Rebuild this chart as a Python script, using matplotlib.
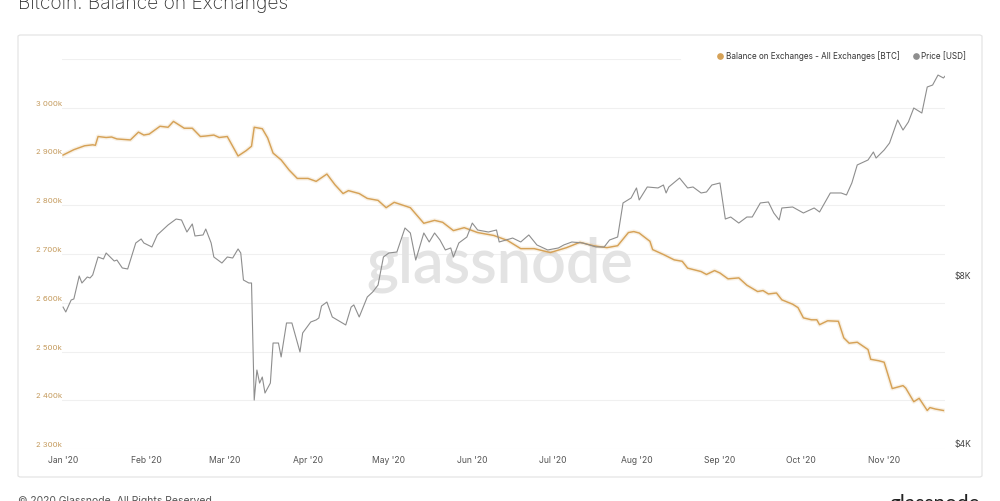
import matplotlib
matplotlib.use("Agg")
import matplotlib.pyplot as plt
import matplotlib.transforms as mtransforms
from matplotlib.patches import FancyBboxPatch
from matplotlib.lines import Line2D
from matplotlib.ticker import FixedLocator, NullLocator
import pandas as pd

# ---------------- data ----------------
start_date = "2020-01-01"

# Balance on exchanges (thousand BTC), days after 2020-01-01
balance_days = [0, 4, 8, 11, 12, 13, 16, 18, 20, 25,
                28, 30, 32, 36, 39, 41, 45, 48, 51, 53,
                56, 58, 61, 65, 68, 70, 71, 74, 76, 78,
                81, 84, 87, 91, 94, 98, 101, 104, 106, 110,
                113, 117, 120, 123, 129, 134, 138, 141, 145, 149,
                154, 160, 165, 170, 175, 181, 187, 192, 197, 202,
                206, 210, 212, 214, 218, 219, 223, 227, 230, 232,
                237, 239, 242, 244, 247, 251, 254, 258, 260, 262,
                265, 267, 271, 273, 275, 278, 280, 281, 284, 288,
                290, 292, 295, 299, 300, 303, 305, 308, 312, 313,
                316, 318, 321, 322, 324, 327]
balance_k = [2903, 2914, 2922, 2924, 2923, 2941, 2939, 2940, 2936, 2934,
             2950, 2944, 2946, 2962, 2960, 2972, 2958, 2958, 2941, 2942,
             2944, 2939, 2941, 2901, 2912, 2921, 2960, 2957, 2938, 2907,
             2893, 2872, 2855, 2855, 2849, 2864, 2842, 2824, 2830, 2824,
             2814, 2810, 2795, 2806, 2795, 2763, 2769, 2765, 2748, 2754,
             2744, 2738, 2728, 2711, 2711, 2703, 2713, 2724, 2717, 2713,
             2717, 2744, 2746, 2743, 2726, 2709, 2699, 2688, 2685, 2671,
             2664, 2658, 2666, 2661, 2649, 2651, 2636, 2623, 2625, 2618,
             2620, 2606, 2597, 2590, 2569, 2565, 2565, 2555, 2563, 2562,
             2528, 2517, 2519, 2504, 2484, 2481, 2478, 2424, 2430, 2425,
             2397, 2404, 2379, 2385, 2382, 2379]

# BTC price (USD), days after 2020-01-01
price_days = [0, 1, 3, 4, 6, 7, 9, 10, 11, 13, 15, 16, 19, 20, 22, 24, 27, 29, 30, 33,
              35, 39, 42, 44, 46, 48, 49, 52, 53, 55, 56, 59, 61, 63, 65, 66, 67, 69, 70, 71,
              72, 73, 74, 75, 77, 78, 80, 81, 83, 85, 88, 89, 92, 94, 95, 96, 98, 100, 105, 107,
              108, 110, 113, 115, 117, 119, 121, 124, 127, 129, 131, 134, 136, 138, 140, 142, 144, 145, 147, 150,
              152, 154, 158, 161, 162, 167, 170, 173, 176, 180, 184, 186, 189, 193, 198, 201, 203, 206, 208, 211,
              213, 214, 217, 221, 223, 224, 225, 229, 232, 234, 237, 239, 241, 244, 246, 248, 251, 254, 256, 259,
              262, 264, 266, 267, 271, 275, 279, 281, 285, 289, 291, 293, 295, 299, 301, 302, 305, 307, 310, 312,
              314, 316, 319, 321, 323, 325, 327, 328]
price_usd = [7037, 6896, 7245, 7276, 8000, 7772, 7967, 7934, 8033, 8652, 8581, 8796, 8510, 8544, 8269, 8235, 9167, 9320, 9167, 9017,
             9476, 9874, 10120, 10079, 9592, 9916, 9436, 9476, 9711, 9167, 8652, 8440, 8652, 8616, 8944, 8796, 7868, 7772, 7772, 4794,
             5428, 5143, 5273, 4936, 5143, 6067, 6067, 5728, 6590, 6590, 5847, 6324, 6617, 6673, 6727, 7068, 7185, 6755, 6536, 7037,
             7100, 6755, 7336, 7488, 7707, 8652, 8796, 8833, 9752, 9553, 8544, 9553, 9205, 9553, 9281, 8907, 8981, 8652, 9167, 9396,
             9953, 9672, 9592, 9672, 9205, 9356, 9205, 9476, 9093, 8907, 8981, 9093, 9205, 9167, 9017, 9017, 9281, 9396, 10813, 11037,
             11504, 10946, 11550, 11504, 11645, 11268, 11550, 11985, 11504, 11550, 11268, 11314, 11645, 11743, 10120, 10204, 9953, 10204, 10204, 10813,
             10857, 10375, 10079, 10591, 10635, 10375, 10591, 10418, 11268, 11268, 11176, 11743, 12649, 12911, 13343, 13015, 13454, 13848, 15227, 14608,
             15103, 16000, 15672, 17449, 17590, 18331, 18110, 18331]

balance_ticks = [2300, 2400, 2500, 2600, 2700, 2800, 2900, 3000]
balance_tick_labels = ["2 300k", "2 400k", "2 500k", "2 600k", "2 700k", "2 800k", "2 900k", "3 000k"]
price_ticks = [4000, 8000]
price_tick_labels = ["$4K", "$8K"]
month_ticks = ["2020-01-01", "2020-02-01", "2020-03-01", "2020-04-01", "2020-05-01", "2020-06-01",
               "2020-07-01", "2020-08-01", "2020-09-01", "2020-10-01", "2020-11-01"]
month_labels = ["Jan '20", "Feb '20", "Mar '20", "Apr '20", "May '20", "Jun '20",
                "Jul '20", "Aug '20", "Sep '20", "Oct '20", "Nov '20"]

title = "Bitcoin: Balance on Exchanges"
legend_balance = "Balance on Exchanges - All Exchanges [BTC]"
legend_price = "Price [USD]"

# ---------------- style ----------------
FONT = ["Inter", "DejaVu Sans"]
plt.rcParams["font.family"] = FONT
ORANGE = "#d6a257"
GREY = "#8e8e8e"
W, H = 1000, 501

t0 = pd.Timestamp(start_date)
bal_dates = t0 + pd.to_timedelta(balance_days, unit="D")
price_dates = t0 + pd.to_timedelta(price_days, unit="D")

fig = plt.figure(figsize=(W / 100, H / 100), dpi=100, facecolor="white")

# panel
panel = FancyBboxPatch((18 / W, 1 - 477 / H), (982 - 18) / W, (477 - 35) / H,
                       boxstyle="round,pad=0,rounding_size=0.003",
                       transform=fig.transFigure, facecolor="white",
                       edgecolor="#e4e4e4", linewidth=0.9, zorder=-5)
fig.patches.append(panel)

ax_left, ax_right = 62, 945
ax_top, ax_bottom = 59, 449
ax = fig.add_axes([ax_left / W, 1 - ax_bottom / H, (ax_right - ax_left) / W, (ax_bottom - ax_top) / H])
ax.patch.set_visible(False)

# watermark (behind the lines)
ax.text(0.5, 1 - 265 / H, "glassnode", ha="center", va="center", fontsize=44,
        color="#e3e3e3", family=["Lato", "DejaVu Sans"], fontweight="semibold",
        transform=fig.transFigure, zorder=1)

ax.plot(bal_dates, balance_k, color=ORANGE, lw=3.0, alpha=0.15, solid_joinstyle="round", zorder=3)
ax.plot(bal_dates, balance_k, color=ORANGE, lw=1.05, solid_joinstyle="round", zorder=4)

ax.set_ylim(2300, 3100)
ax.set_xlim(t0 - pd.Timedelta(days=0.4), t0 + pd.Timedelta(days=327.6))
ax.set_yticks(balance_ticks)
ax.set_yticklabels(balance_tick_labels)
ax.yaxis.set_minor_locator(NullLocator())
ax.tick_params(axis="y", length=0, pad=0, labelsize=5.6, labelcolor="#c49a5c")
offset = mtransforms.ScaledTranslation(0, 4.5 / 100, fig.dpi_scale_trans)
for lab in ax.get_yticklabels():
    lab.set_transform(lab.get_transform() + offset)
ax.grid(axis="y", color="#f0f0f0", lw=0.8, zorder=0)
ax.set_axisbelow(True)
# top gridline (3 100k) without label
ax.axhline(3100, xmax=0.7, color="#f0f0f0", lw=0.8, zorder=0)

ax.set_xticks(pd.to_datetime(month_ticks))
ax.set_xticklabels(month_labels)
ax.tick_params(axis="x", length=0, pad=5, labelsize=6.2, labelcolor="#555555")
for s in ax.spines.values():
    s.set_visible(False)

ax2 = ax.twinx()
ax2.patch.set_visible(False)
ax2.plot(price_dates, price_usd, color=GREY, lw=0.8, zorder=5)
ax2.set_yscale("log")
ax2.set_ylim(3918, 19585)
ax2.yaxis.set_major_locator(FixedLocator(price_ticks))
ax2.set_yticklabels(price_tick_labels)
ax2.yaxis.set_minor_locator(NullLocator())
ax2.tick_params(axis="y", length=0, pad=7, labelsize=6.2, labelcolor="#444444")
for s in ax2.spines.values():
    s.set_visible(False)
ax2.set_xlim(ax.get_xlim())

# legend
handles = [Line2D([], [], marker="o", ls="none", color=ORANGE, markersize=3.8, label=legend_balance),
           Line2D([], [], marker="o", ls="none", color=GREY, markersize=3.8, label=legend_price)]
fig.legend(handles=handles, loc="center right", bbox_to_anchor=(966 / W, 1 - 56 / H),
           ncol=2, frameon=False, fontsize=5.85, handletextpad=0.15, columnspacing=1.5,
           handlelength=1.0, labelcolor="#333333", borderaxespad=0, borderpad=0)

# title and footer
fig.text(18 / W, 1 - 9 / H, title, ha="left", va="baseline", fontsize=13.8,
         color="#333333", fontweight="light")
fig.text(18 / W, 1 - 496 / H, "© 2020 Glassnode. All Rights Reserved.", ha="left", va="top",
         fontsize=7.5, color="#555555")
fig.text(980 / W, 1 - 494 / H, "glassnode", ha="right", va="top", fontsize=15,
         color="#222222", family=["Lato", "DejaVu Sans"])

fig.savefig("out.png", dpi=100, facecolor="white")
